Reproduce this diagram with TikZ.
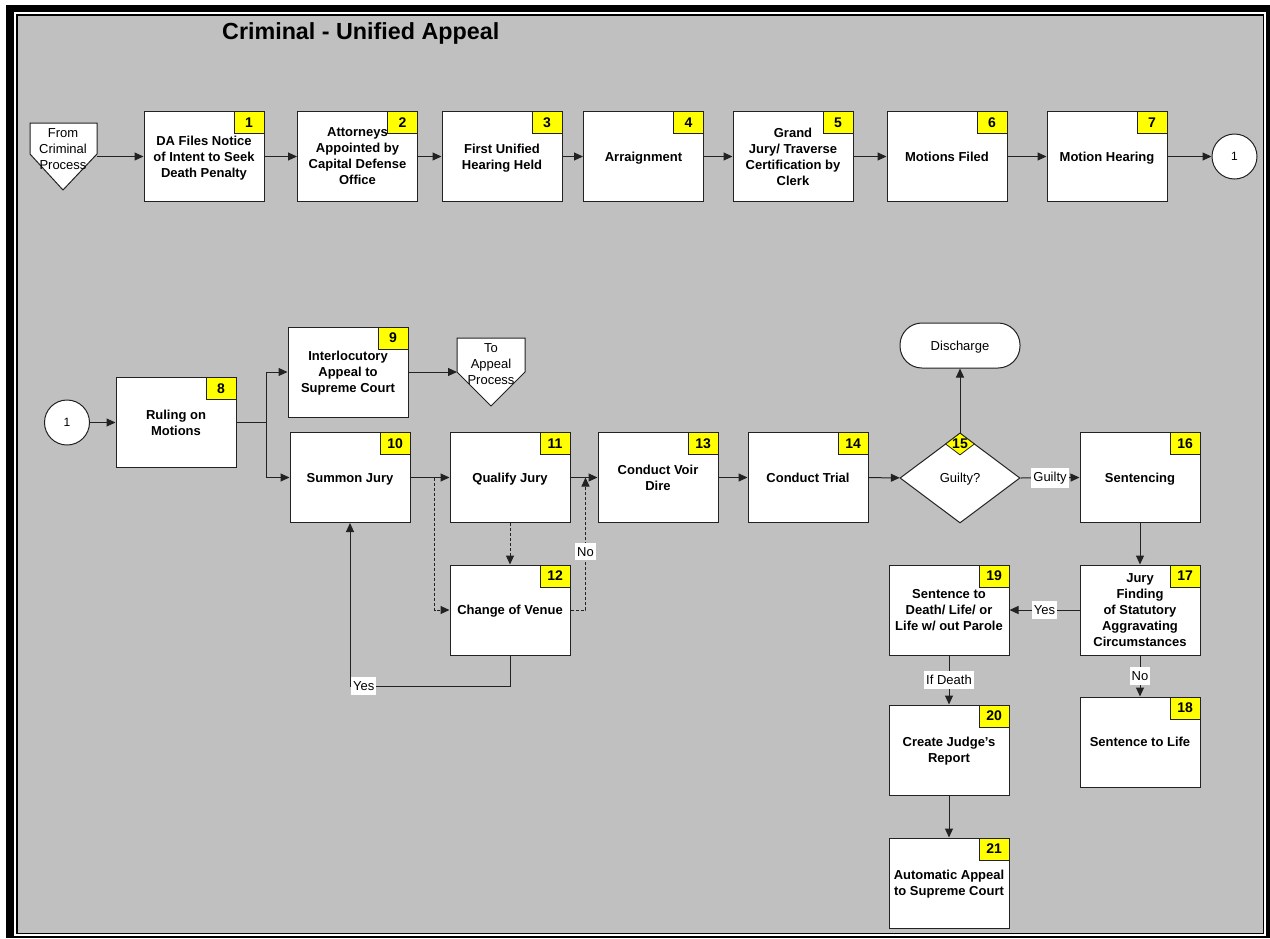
\documentclass[tikz,border=0pt]{standalone}
\usepackage{fontspec}
\setmainfont{Liberation Sans}
\usetikzlibrary{arrows.meta,shapes.geometric,calc}
\definecolor{bg}{HTML}{C0C0C0}
\definecolor{tagy}{HTML}{FFFF00}
\definecolor{ink}{HTML}{222222}
\begin{document}
\begin{tikzpicture}[x=1pt,y=-1pt,
  box/.style={draw=ink,line width=1pt,fill=white,minimum width=120pt,minimum height=90pt,inner sep=0pt,align=center,text depth=0pt,font=\bfseries\fontsize{13}{16}\selectfont},
  tag/.style={draw=ink,line width=0.8pt,fill=tagy,minimum width=30pt,minimum height=22pt,inner sep=0pt,font=\bfseries\fontsize{14}{16}\selectfont,anchor=north east},
  conn/.style={draw=ink,line width=1pt,-{Triangle[length=9pt,width=8pt]}},
  dconn/.style={conn,dash pattern=on 3pt off 2pt},
  lbl/.style={fill=white,inner xsep=2pt,inner ysep=4pt,font=\fontsize{13}{15}\selectfont},
  plain/.style={align=center,inner sep=0pt,font=\fontsize{13}{16}\selectfont},
  conncircle/.style={circle,draw=ink,line width=1pt,fill=white,minimum size=45pt,inner sep=0pt,font=\fontsize{12}{14}\selectfont},
  offpage/.style={draw=ink,line width=1pt,fill=white}
]
\useasboundingbox (0,0) rectangle (1270,938);
% frame
\fill[black] (6,5) rectangle (1270,938);
\fill[white] (14,12) rectangle (1266,936);
\fill[black] (16,14) rectangle (1264,934);
\fill[bg] (17.5,15.5) rectangle (1262.5,932.5);

\node[anchor=west,inner sep=0pt,font=\bfseries\fontsize{23.3}{26}\selectfont] (title) at (222,33) {Criminal - Unified Appeal};

% ---------- row 1 ----------
\draw[offpage] (30,123) -- (97,123) -- (97,154) -- (63,190) -- (30,154) -- cycle;
\node[plain,text depth=0pt] (fcp) at (63,149.5) {From\\Criminal\\Process};
\coordinate (fcpE) at (97,156.5);

\node[box] (b1) at (204,156.5) {DA Files Notice\\of Intent to Seek\\Death Penalty};
\node[box] (b2) at (357.5,156.5) {Attorneys\\Appointed by\\Capital Defense\\Office};
\node[box] (b3) at (502,156.5) {First Unified\\Hearing Held};
\node[box] (b4) at (643.5,156.5) {Arraignment};
\node[box] (b5) at (793,156.5) {Grand\\Jury/ Traverse\\Certification by\\Clerk};
\node[box] (b6) at (947,156.5) {Motions Filed};
\node[box] (b7) at (1107,156.5) {Motion Hearing};
\node[conncircle] (c1a) at (1234.5,156.5) {1};

\foreach \b/\n in {b1/1,b2/2,b3/3,b4/4,b5/5,b6/6,b7/7}
  \node[tag] (t\n) at (\b.north east) {\n};

\draw[conn] (fcpE) -- (b1);
\draw[conn] (b1) -- (b2);
\draw[conn] (b2) -- (b3);
\draw[conn] (b3) -- (b4);
\draw[conn] (b4) -- (b5);
\draw[conn] (b5) -- (b6);
\draw[conn] (b6) -- (b7);
\draw[conn] (b7) -- (c1a);

% ---------- row 2 ----------
\node[conncircle] (c1b) at (67,422.5) {1};
\node[box] (b8) at (176,422.5) {Ruling on\\Motions};
\node[box] (b9) at (348,372) {Interlocutory\\Appeal to\\Supreme Court};
\draw[offpage] (457,338) -- (525,338) -- (525,372) -- (491,406) -- (457,372) -- cycle;
\node[plain,text depth=0pt] (tap) at (491,364.5) {To\\Appeal\\Process};
\coordinate (tapW) at (457,372);

\node[box] (b10) at (350,477.5) {Summon Jury};
\node[box] (b11) at (510,477.5) {Qualify Jury};
\node[box] (b12) at (510,610) {Change of Venue};
\node[box] (b13) at (658,477.5) {Conduct Voir\\Dire};
\node[box] (b14) at (808,477.5) {Conduct Trial};
\node[draw=ink,line width=1pt,fill=white,shape=diamond,aspect=1.333,minimum width=120pt,minimum height=90pt,inner sep=0pt,text depth=0pt,font=\fontsize{13}{16}\selectfont] (d15) at (960,478) {Guilty?};
\node[draw=ink,line width=1pt,fill=white,rounded corners=22pt,minimum width=120pt,minimum height=45pt,inner sep=0pt,text depth=0pt,font=\fontsize{13}{16}\selectfont] (dis) at (960,345.5) {Discharge};
\node[box] (b16) at (1140,477.5) {Sentencing};
\node[box] (b17) at (1140,610) {Jury\\Finding\\of Statutory\\Aggravating\\Circumstances};
\node[box] (b18) at (1140,742) {Sentence to Life};
\node[box] (b19) at (949,610) {Sentence to\\Death/ Life/ or\\Life w/ out Parole};
\node[box] (b20) at (949,750) {Create Judge's\\Report};
\node[box] (b21) at (949,883) {Automatic Appeal\\to Supreme Court};

\foreach \b/\n in {b8/8,b9/9,b10/10,b11/11,b12/12,b13/13,b14/14,b16/16,b17/17,b18/18,b19/19,b20/20,b21/21}
  \node[tag] (t\n) at (\b.north east) {\n};

% connectors row 2
\draw[conn] (c1b) -- (b8);
\draw[line width=1pt,draw=ink] (b8.east) -- ++(30,0) coordinate (br);
\draw[conn] (br) |- (b9.west);
\draw[conn] (br) |- (b10.west);
\draw[conn] (b9.east) -- (tapW);
\draw[conn] (b10) -- (b11);
\draw[conn] (b11) -- (b13);
\draw[conn] (b13) -- (b14);
\draw[conn] (b14) -- (d15);
\draw[conn] (d15.north) -- (dis.south);
\draw[conn] (d15.east) -- node[lbl]{Guilty} (b16.west);

\coordinate (d1) at ($(b10.east)+(24,0)$);
\coordinate (d2) at ($(b11.east)+(15,0)$);
\draw[dconn] (d1) |- (b12.west);
\draw[dconn] (b11.south) -- (b12.north);
\draw[dconn] (b12.east) -| node[lbl,pos=0.72]{No} (d2);

\coordinate (yc) at (350,686);
\draw[conn] (b12.south) |- (yc) -- (b10.south);
\node[lbl,anchor=west] (yes1) at (351,686) {Yes};

\draw[conn] (b16) -- (b17);
\draw[conn] (b17.west) -- node[lbl]{Yes} (b19.east);
\draw[conn] (b17.south) -- node[lbl]{No} (b18.north);
\draw[conn] (b19.south) -- node[lbl]{If Death} (b20.north);
\draw[conn] (b20) -- (b21);

\node[draw=ink,line width=0.8pt,fill=tagy,shape=diamond,aspect=1.32,minimum width=29pt,minimum height=22pt,inner sep=0pt,font=\bfseries\fontsize{14}{16}\selectfont] (t15) at (960,444) {15};
\end{tikzpicture}
\end{document}
